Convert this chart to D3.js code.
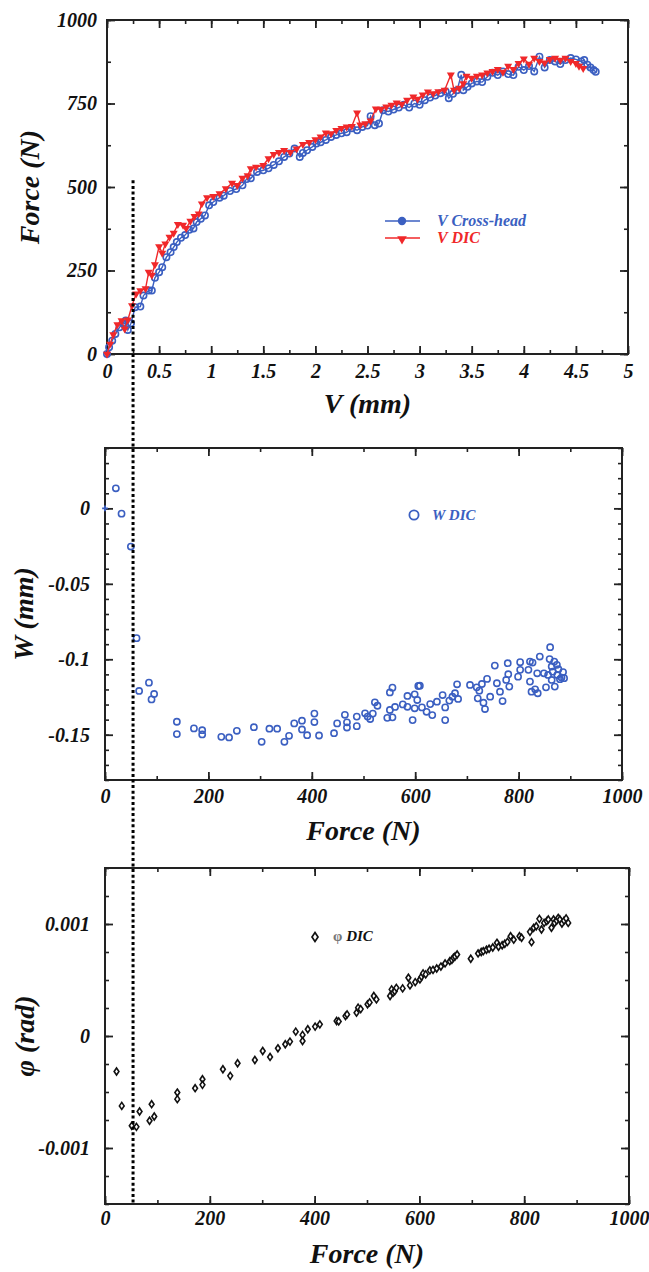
<!DOCTYPE html>
<html>
<head>
<meta charset="utf-8">
<script src="https://cdn.jsdelivr.net/npm/d3@7"></script>
<style>
  body { margin: 0; background: #fff; }
  svg text { font-family: "Liberation Serif", "Times New Roman", serif; font-weight: bold; font-style: italic; }
</style>
</head>
<body>
<div id="chart"></div>
<script>
// V Cross-head: [V (mm), Force (N)]
const crossHead = [[0,0],[0.02,20],[0.05,40],[0.08,60],[0.12,80],[0.15,92],[0.18,100],[0.2,72],[0.23,92],[0.27,140],
  [0.32,142],[0.35,175],[0.4,190],[0.43,190],[0.46,228],[0.5,245],[0.53,260],[0.57,290],[0.61,305],[0.64,320],
  [0.67,335],[0.71,348],[0.75,356],[0.79,372],[0.83,376],[0.86,395],[0.9,405],[0.94,415],[0.98,445],[1.02,455],
  [1.08,468],[1.12,474],[1.18,488],[1.24,494],[1.3,505],[1.34,524],[1.38,526],[1.44,545],[1.5,550],[1.55,556],
  [1.6,566],[1.65,577],[1.7,590],[1.75,600],[1.8,615],[1.85,590],[1.88,602],[1.92,610],[1.97,620],[2.01,630],
  [2.05,634],[2.1,641],[2.15,650],[2.2,656],[2.25,661],[2.3,664],[2.35,676],[2.4,670],[2.45,680],[2.5,684],
  [2.53,712],[2.57,685],[2.61,690],[2.65,730],[2.7,726],[2.75,732],[2.8,738],[2.85,746],[2.9,738],[2.95,750],
  [3.0,746],[3.05,760],[3.1,768],[3.15,774],[3.2,781],[3.25,786],[3.28,766],[3.32,779],[3.36,790],[3.4,836],
  [3.42,790],[3.46,800],[3.5,810],[3.55,816],[3.6,814],[3.65,830],[3.7,842],[3.75,835],[3.8,846],[3.85,838],
  [3.9,835],[3.95,860],[4.0,850],[4.05,862],[4.1,846],[4.15,890],[4.2,858],[4.25,880],[4.3,876],[4.35,868],
  [4.4,880],[4.45,886],[4.5,882],[4.55,876],[4.58,880],[4.61,866],[4.64,858],[4.67,850],[4.69,845]];

// V DIC: [V (mm), Force (N)]
const vDic = [[0,0],[0.03,30],[0.06,58],[0.1,88],[0.14,100],[0.17,75],[0.2,102],[0.24,145],[0.28,180],[0.32,190],
  [0.37,196],[0.4,245],[0.43,236],[0.46,268],[0.5,322],[0.53,302],[0.56,330],[0.6,350],[0.64,362],[0.68,388],
  [0.73,386],[0.76,376],[0.8,398],[0.84,412],[0.88,420],[0.91,450],[0.96,468],[1.02,472],[1.08,480],[1.14,495],
  [1.2,512],[1.25,505],[1.3,527],[1.35,534],[1.38,555],[1.43,560],[1.5,565],[1.55,585],[1.6,598],[1.65,604],
  [1.7,610],[1.76,604],[1.82,614],[1.88,628],[1.94,634],[2.0,642],[2.05,650],[2.1,662],[2.15,660],[2.2,670],
  [2.25,676],[2.3,680],[2.35,682],[2.4,722],[2.43,686],[2.48,690],[2.53,698],[2.58,734],[2.63,733],[2.68,740],
  [2.73,745],[2.78,752],[2.83,748],[2.88,760],[2.94,770],[2.98,763],[3.03,776],[3.08,785],[3.13,780],[3.18,786],
  [3.24,790],[3.3,836],[3.33,790],[3.38,796],[3.42,810],[3.45,832],[3.5,826],[3.55,832],[3.6,836],[3.65,842],
  [3.7,846],[3.75,852],[3.8,844],[3.85,862],[3.9,852],[3.95,870],[4.0,884],[4.05,868],[4.1,886],[4.15,876],
  [4.2,872],[4.25,882],[4.3,886],[4.35,880],[4.4,886],[4.45,876],[4.5,870],[4.53,862],[4.57,855]];

// W DIC: [Force (N), W (mm)]
const wDic = [[21,0.0133],[32,-0.0035],[50,-0.0253],[61,-0.086],[66,-0.121],[85,-0.1155],[90,-0.1266],[95,-0.123],
  [139,-0.1414],[139,-0.1496],[172,-0.1458],[188,-0.147],[188,-0.1498],[225,-0.1514],[240,-0.1518],[255,-0.1474],
  [288,-0.145],[303,-0.1547],[318,-0.146],[333,-0.146],[347,-0.1547],[356,-0.1507],[366,-0.1425],[381,-0.1407],
  [381,-0.1465],[391,-0.1503],[405,-0.136],[405,-0.1416],[414,-0.1505],[443,-0.149],[449,-0.1425],[464,-0.1368],
  [468,-0.1418],[468,-0.1452],[487,-0.138],[487,-0.1443],[503,-0.1358],[508,-0.138],[513,-0.1396],[518,-0.136],
  [522,-0.1285],[527,-0.1308],[546,-0.1388],[551,-0.122],[556,-0.1188],[551,-0.1336],[556,-0.1385],[561,-0.1316],
  [576,-0.1299],[585,-0.1243],[585,-0.1315],[595,-0.1403],[599,-0.1232],[599,-0.1325],[604,-0.127],[606,-0.1177],
  [609,-0.1175],[613,-0.1319],[622,-0.1348],[629,-0.1297],[633,-0.137],[642,-0.1281],[653,-0.1237],[658,-0.1319],
  [658,-0.1403],[666,-0.1274],[672,-0.1248],[677,-0.1225],[683,-0.1263],[681,-0.1166],[706,-0.117],[719,-0.1186],
  [724,-0.1208],[729,-0.1164],[721,-0.1259],[732,-0.1288],[735,-0.133],[739,-0.113],[745,-0.1248],[754,-0.1042],
  [758,-0.1159],[764,-0.1215],[769,-0.1277],[776,-0.1137],[779,-0.1026],[780,-0.1099],[782,-0.1181],[799,-0.1115],
  [803,-0.1019],[803,-0.107],[819,-0.107],[822,-0.1015],[827,-0.1022],[822,-0.1148],[825,-0.1215],[832,-0.1199],
  [837,-0.1225],[841,-0.0982],[836,-0.1093],[849,-0.1093],[853,-0.1186],[861,-0.092],[860,-0.0999],[864,-0.1048],
  [869,-0.1015],[870,-0.1181],[874,-0.1037],[875,-0.1104],[877,-0.1066],[880,-0.1132],[883,-0.1121],[857,-0.1104],
  [864,-0.1137],[866,-0.1082],[886,-0.1085],[888,-0.1125]];
const wOrigin = [[0, 0]];

// phi DIC: [Force (N), phi (rad)]
const phiDic = [[22,-0.000317],[32,-0.000624],[51,-0.000802],[60,-0.000811],[66,-0.000674],[85,-0.000757],
  [89,-0.000609],[94,-0.000719],[138,-0.000505],[138,-0.000564],[172,-0.000466],[186,-0.000386],[186,-0.000436],
  [225,-0.000297],[239,-0.000356],[253,-0.000243],[286,-0.000214],[301,-0.000134],[315,-0.000187],[330,-0.00011],
  [344,-0.000074],[353,-0.00005],[364,0.000039],[377,0.00001],[377,-0.000045],[387,0.00006],[401,0.000084],
  [410,0.000104],[442,0.000134],[446,0.00013],[459,0.000178],[462,0.000193],[480,0.000208],[483,0.000253],
  [488,0.00024],[501,0.000283],[505,0.0003],[513,0.000357],[518,0.000327],[544,0.000357],[547,0.000416],
  [550,0.000387],[553,0.0004],[556,0.00043],[568,0.000425],[579,0.00052],[582,0.000452],[592,0.000481],
  [601,0.000505],[604,0.00053],[607,0.000559],[612,0.00055],[620,0.000586],[626,0.00059],[633,0.000603],
  [641,0.00062],[649,0.000648],[658,0.000668],[662,0.00068],[665,0.000699],[668,0.00071],[672,0.000728],
  [698,0.00069],[712,0.000737],[718,0.00075],[722,0.000758],[728,0.00077],[733,0.000779],[740,0.00079],
  [748,0.000832],[751,0.000797],[758,0.00081],[763,0.000824],[768,0.00084],[774,0.000891],[780,0.00086],
  [791,0.000891],[795,0.000877],[811,0.00093],[814,0.000838],[818,0.000966],[823,0.00098],[829,0.001046],
  [833,0.000951],[838,0.00101],[843,0.001025],[846,0.00104],[852,0.000966],[856,0.00104],[858,0.00101],
  [862,0.00103],[865,0.001055],[868,0.00104],[872,0.001004],[876,0.00103],[880,0.00105],[884,0.00101]];

// axis ticks and labels
const vTicks = [0, 0.5, 1, 1.5, 2, 2.5, 3, 3.5, 4, 4.5, 5];
const forceTopTicks = [0, 250, 500, 750, 1000];
const forceTicks = [0, 200, 400, 600, 800, 1000];
const wTicks = [0, -0.05, -0.1, -0.15];
const phiTicks = [-0.001, 0, 0.001];

const blue = "#3b5fc1", red = "#f0282a";
const W = 649, H = 1272;

const svg = d3.select("#chart").append("svg")
  .attr("width", W).attr("height", H);

function range(a, b, s) {
  const out = [];
  for (let v = a; v <= b + s / 1000; v += s) out.push(+v.toFixed(6));
  return out;
}

// frame with inward ticks on all four sides
function drawFrame(g, x, y, o) {
  const [x0, x1] = x.range(), [y1, y0] = y.range();
  const sides = [
    [d3.axisBottom, x, `translate(0,${y1})`, o.xMinor, o.xMajor],
    [d3.axisTop, x, `translate(0,${y0})`, o.xMinor, o.xMajor],
    [d3.axisLeft, y, `translate(${x0},0)`, o.yMinor, o.yMajor],
    [d3.axisRight, y, `translate(${x1},0)`, o.yMinor, o.yMajor]
  ];
  sides.forEach(([ax, sc, tr, minor, major]) => {
    g.append("g").attr("transform", tr)
      .call(ax(sc).tickValues(minor).tickSize(-4).tickFormat(""))
      .call(a => a.select(".domain").remove())
      .selectAll("line").attr("stroke", "#222").attr("stroke-width", 1.6);
    g.append("g").attr("transform", tr)
      .call(ax(sc).tickValues(major).tickSize(-8).tickFormat(""))
      .call(a => a.select(".domain").remove())
      .selectAll("line").attr("stroke", "#222").attr("stroke-width", 1.8);
  });
  g.append("rect")
    .attr("x", x0).attr("y", y0).attr("width", x1 - x0).attr("height", y1 - y0)
    .attr("fill", "none").attr("stroke", "#222").attr("stroke-width", 2);

  g.append("g").attr("transform", `translate(0,${y1})`)
    .call(d3.axisBottom(x).tickValues(o.xMajor).tickSize(0).tickPadding(o.xPad).tickFormat(d => String(d)))
    .call(a => a.select(".domain").remove())
    .selectAll("text").attr("font-size", 20).attr("fill", "#111")
    .attr("font-family", null);
  g.append("g").attr("transform", `translate(${x0},0)`)
    .call(d3.axisLeft(y).tickValues(o.yLabels).tickSize(0).tickPadding(o.yPad).tickFormat(d => String(d)))
    .call(a => a.select(".domain").remove())
    .selectAll("text").attr("font-size", 20).attr("fill", "#111")
    .attr("font-family", null);

  g.append("text")
    .attr("x", (x0 + x1) / 2).attr("y", o.xTitleY)
    .attr("text-anchor", "middle").attr("font-size", 28).attr("fill", "#111")
    .text(o.xTitle);
  g.append("text")
    .attr("transform", `translate(${o.yTitleX},${(y0 + y1) / 2}) rotate(-90)`)
    .attr("text-anchor", "middle").attr("font-size", 28).attr("fill", "#111")
    .text(o.yTitle);
}

// ---------- top: Force vs V ----------
const xV = d3.scaleLinear().domain([0, 5]).range([107, 628]);
const yF = d3.scaleLinear().domain([0, 1000]).range([354, 20]);
const gTop = svg.append("g");
drawFrame(gTop, xV, yF, {
  xMinor: range(0, 5, 0.25), xMajor: vTicks,
  yMinor: range(0, 1000, 125), yMajor: forceTopTicks, yLabels: forceTopTicks,
  xPad: 10, yPad: 10, xTitle: "V (mm)", xTitleY: 413, yTitle: "Force (N)", yTitleX: 39
});

const lineTop = d3.line().x(d => xV(d[0])).y(d => yF(d[1]));
gTop.append("path").datum(crossHead).attr("d", lineTop)
  .attr("fill", "none").attr("stroke", blue).attr("stroke-width", 1.4);
gTop.selectAll(".ch").data(crossHead).join("circle").attr("class", "ch")
  .attr("cx", d => xV(d[0])).attr("cy", d => yF(d[1])).attr("r", 3.2)
  .attr("fill", "none").attr("stroke", blue).attr("stroke-width", 1.6);
gTop.append("path").datum(vDic).attr("d", lineTop)
  .attr("fill", "none").attr("stroke", red).attr("stroke-width", 1.4);
const tri = d3.symbol(d3.symbolTriangle, 28);
gTop.selectAll(".vd").data(vDic).join("path").attr("class", "vd")
  .attr("d", tri)
  .attr("transform", d => `translate(${xV(d[0])},${yF(d[1])}) rotate(180)`)
  .attr("fill", red);

// legend
const legTop = gTop.append("g");
legTop.append("line").attr("x1", 385).attr("x2", 420).attr("y1", 221).attr("y2", 221)
  .attr("stroke", blue).attr("stroke-width", 1.5);
legTop.append("circle").attr("cx", 402).attr("cy", 221).attr("r", 4.2).attr("fill", blue);
legTop.append("line").attr("x1", 385).attr("x2", 420).attr("y1", 238).attr("y2", 238)
  .attr("stroke", red).attr("stroke-width", 1.5);
legTop.append("path").attr("d", d3.symbol(d3.symbolTriangle, 40))
  .attr("transform", "translate(402,239) rotate(180)").attr("fill", red);
legTop.append("text").attr("x", 437).attr("y", 226).attr("font-size", 16)
  .attr("fill", blue).text("V Cross-head");
legTop.append("text").attr("x", 437).attr("y", 243).attr("font-size", 16)
  .attr("fill", red).text("V DIC");

// ---------- middle: W vs Force ----------
const xFm = d3.scaleLinear().domain([0, 1000]).range([105, 622]);
const yW = d3.scaleLinear().domain([-0.18, 0.04]).range([780, 448]);
const gMid = svg.append("g");
drawFrame(gMid, xFm, yW, {
  xMinor: range(0, 1000, 100), xMajor: forceTicks,
  yMinor: range(-0.18, 0.04, 0.01), yMajor: wTicks, yLabels: wTicks,
  xPad: 9, yPad: 15, xTitle: "Force (N)", xTitleY: 840, yTitle: "W (mm)", yTitleX: 33
});
gMid.selectAll(".wo").data(wOrigin).join("path").attr("class", "wo")
  .attr("d", d3.symbol(d3.symbolCross, 18))
  .attr("transform", d => `translate(${xFm(d[0])},${yW(d[1])})`)
  .attr("fill", blue);
gMid.selectAll(".wd").data(wDic).join("circle").attr("class", "wd")
  .attr("cx", d => xFm(d[0])).attr("cy", d => yW(d[1])).attr("r", 3.1)
  .attr("fill", "none").attr("stroke", blue).attr("stroke-width", 1.6);
gMid.append("circle").attr("cx", 414).attr("cy", 515).attr("r", 4.6)
  .attr("fill", "none").attr("stroke", blue).attr("stroke-width", 1.8);
gMid.append("text").attr("x", 432).attr("y", 520).attr("font-size", 15)
  .attr("fill", blue).text("W DIC");

// ---------- bottom: phi vs Force ----------
const xFb = d3.scaleLinear().domain([0, 1000]).range([105, 629]);
const yP = d3.scaleLinear().domain([-0.0015, 0.0015]).range([1204, 868]);
const gBot = svg.append("g");
drawFrame(gBot, xFb, yP, {
  xMinor: range(0, 1000, 100), xMajor: forceTicks,
  yMinor: range(-0.0015, 0.0015, 0.00025), yMajor: phiTicks, yLabels: phiTicks,
  xPad: 7, yPad: 15, xTitle: "Force (N)", xTitleY: 1263, yTitle: "φ (rad)", yTitleX: 34
});
const diamond = "M0,-3.5L2.4,0L0,3.5L-2.4,0Z";
gBot.selectAll(".pd").data(phiDic).join("path").attr("class", "pd")
  .attr("d", diamond)
  .attr("transform", d => `translate(${xFb(d[0])},${yP(d[1])})`)
  .attr("fill", "#fff").attr("stroke", "#111").attr("stroke-width", 1.6);
gBot.append("path").attr("d", "M0,-4.5L3,0L0,4.5L-3,0Z")
  .attr("transform", "translate(315,937)")
  .attr("fill", "#fff").attr("stroke", "#111").attr("stroke-width", 1.7);
const legBot = gBot.append("text").attr("x", 333).attr("y", 941).attr("font-size", 15).attr("fill", "#111");
legBot.append("tspan").attr("fill", "#777").attr("font-style", "normal").text("φ ");
legBot.append("tspan").text("DIC");

// dotted guide through all three panels
svg.append("line")
  .attr("x1", xV(0.25)).attr("x2", xV(0.25))
  .attr("y1", yF(520)).attr("y2", 1205)
  .attr("stroke", "#000").attr("stroke-width", 3).attr("stroke-dasharray", "3,2.6");
</script>
</body>
</html>
